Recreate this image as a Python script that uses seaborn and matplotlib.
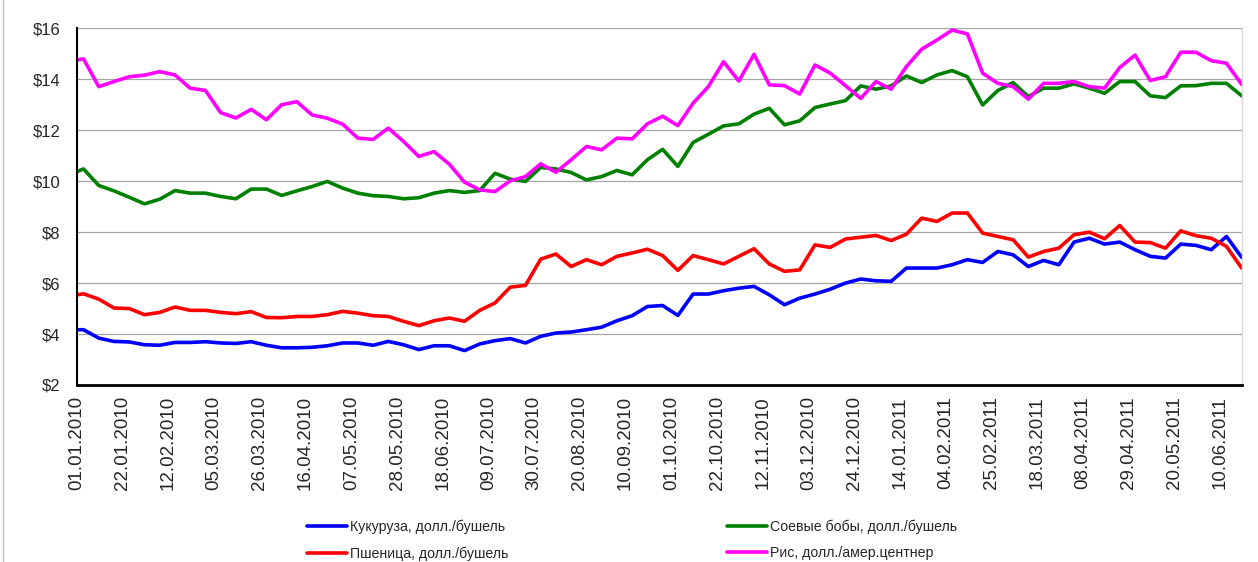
import pandas as pd
import matplotlib
matplotlib.use("Agg")
import matplotlib.pyplot as plt
import seaborn as sns
from matplotlib.lines import Line2D

# observation dates: 01.01.2010, then weekly (Mondays) up to 20.06.2011
dates = pd.to_datetime(["2010-01-01"]).append(pd.date_range("2010-01-04", "2011-06-20", freq="7D"))

# x axis labels every three weeks
tick_dates = pd.date_range("2010-01-01", "2011-06-10", freq="21D")
tick_labels = [d.strftime("%d.%m.%Y") for d in tick_dates]

y_ticks = [2, 4, 6, 8, 10, 12, 14, 16]

corn = [4.17, 4.17, 3.84, 3.71, 3.69, 3.58, 3.56, 3.67, 3.67, 3.70, 3.65, 3.63, 3.70, 3.56, 3.46, 3.46, 3.48, 3.54, 3.65, 3.65, 3.56,
        3.71, 3.58, 3.39, 3.54, 3.54, 3.35, 3.61, 3.74, 3.82, 3.65, 3.91, 4.04, 4.08, 4.17, 4.27, 4.52, 4.72, 5.08, 5.12,
        4.73, 5.57, 5.57, 5.70, 5.80, 5.87, 5.54, 5.15, 5.41, 5.57, 5.76, 6.00, 6.16, 6.09, 6.07, 6.59, 6.59, 6.59, 6.72, 6.92,
        6.81, 7.24, 7.11, 6.65, 6.89, 6.72, 7.61, 7.76, 7.53, 7.61, 7.31, 7.05, 6.98, 7.53, 7.48, 7.31, 7.83, 7.01]

wheat = [5.54, 5.58, 5.37, 5.02, 5.00, 4.76, 4.85, 5.06, 4.93, 4.93, 4.85, 4.80, 4.88, 4.65, 4.64, 4.69, 4.69, 4.76, 4.89, 4.82, 4.72,
         4.69, 4.50, 4.33, 4.52, 4.63, 4.50, 4.93, 5.22, 5.84, 5.91, 6.94, 7.14, 6.65, 6.92, 6.72, 7.05, 7.18, 7.33, 7.08,
         6.50, 7.08, 6.92, 6.75, 7.05, 7.35, 6.75, 6.46, 6.52, 7.50, 7.40, 7.73, 7.80, 7.87, 7.67, 7.92, 8.55, 8.42, 8.75, 8.75,
         7.96, 7.83, 7.70, 7.02, 7.24, 7.37, 7.90, 8.00, 7.74, 8.26, 7.61, 7.59, 7.37, 8.05, 7.86, 7.76, 7.44, 6.59]

soy = [10.38, 10.48, 9.83, 9.62, 9.37, 9.11, 9.29, 9.63, 9.53, 9.53, 9.40, 9.31, 9.69, 9.69, 9.44, 9.62, 9.79, 9.99, 9.73, 9.53, 9.43,
       9.40, 9.31, 9.35, 9.53, 9.63, 9.56, 9.63, 10.31, 10.08, 9.99, 10.54, 10.48, 10.34, 10.05, 10.18, 10.42, 10.25, 10.84, 11.25,
       10.58, 11.52, 11.84, 12.17, 12.25, 12.63, 12.86, 12.21, 12.37, 12.89, 13.03, 13.16, 13.74, 13.61, 13.74, 14.13, 13.87, 14.17, 14.34, 14.10,
       12.99, 13.56, 13.87, 13.32, 13.65, 13.65, 13.82, 13.65, 13.45, 13.91, 13.91, 13.35, 13.28, 13.74, 13.75, 13.84, 13.84, 13.35]

rice = [14.76, 14.80, 13.71, 13.91, 14.10, 14.16, 14.30, 14.17, 13.65, 13.56, 12.69, 12.48, 12.82, 12.41, 13.00, 13.12, 12.60, 12.47, 12.24, 11.69, 11.64,
        12.08, 11.56, 10.97, 11.16, 10.67, 9.96, 9.66, 9.59, 10.01, 10.18, 10.68, 10.35, 10.84, 11.36, 11.23, 11.69, 11.66, 12.25, 12.55,
        12.18, 13.06, 13.71, 14.69, 13.93, 14.98, 13.78, 13.75, 13.42, 14.56, 14.24, 13.75, 13.25, 13.91, 13.61, 14.50, 15.18, 15.54, 15.93, 15.78,
        14.24, 13.84, 13.71, 13.22, 13.84, 13.84, 13.91, 13.71, 13.65, 14.46, 14.95, 13.95, 14.10, 15.06, 15.06, 14.73, 14.63, 13.80]

names = ["Кукуруза, долл./бушель", "Пшеница, долл./бушель", "Соевые бобы, долл./бушель", "Рис, долл./амер.центнер"]
colors = ["#0000ff", "#ff0000", "#008000", "#ff00ff"]

df = pd.DataFrame({"date": dates, names[0]: corn, names[1]: wheat, names[2]: soy, names[3]: rice})
long_df = df.melt(id_vars="date", var_name="series", value_name="price")

sns.set_style("white")
plt.rcParams["font.family"] = ["Liberation Sans", "DejaVu Sans"]

fig = plt.figure(figsize=(12.58, 5.62), dpi=100)
ax = fig.add_axes([77 / 1258, 1 - 385 / 562, (1241.7 - 77) / 1258, (385 - 28.3) / 562])

sns.lineplot(data=long_df, x="date", y="price", hue="series", hue_order=names,
             palette=colors, linewidth=2.6, legend=False, ax=ax)

ax.set_xlim(dates[0], dates[-1])
ax.set_ylim(2, 16)
ax.set_yticks(y_ticks)
ax.set_yticklabels([f"${v}" for v in y_ticks], fontsize=12)
ax.set_xticks(tick_dates)
ax.set_xticklabels(tick_labels, rotation=90, fontsize=13.5)
ax.set_xlabel("")
ax.set_ylabel("")

ax.grid(axis="y", color="#a6a6a6", linewidth=0.9)
ax.grid(axis="x", visible=False)
ax.set_axisbelow(True)

ax.spines["left"].set_color("black")
ax.spines["left"].set_linewidth(1.5)
ax.spines["bottom"].set_color("black")
ax.spines["bottom"].set_linewidth(2)
ax.spines["top"].set_visible(False)
ax.spines["right"].set_color("#d9d9d9")
ax.spines["right"].set_linewidth(1)

ax.tick_params(axis="x", direction="in", length=4, width=1.2, color="black", pad=8)
ax.tick_params(axis="y", length=0, pad=12)

# legend in two columns placed under the axis labels
handles = [Line2D([], [], color=c, linewidth=2.6) for c in colors]
leg_kw = dict(frameon=False, fontsize=10.2, handlelength=2.8, handletextpad=0.25,
              borderpad=0, labelspacing=0.9, loc="upper left")
fig.legend(handles[:2], names[:2], bbox_to_anchor=(300 / 1258, 0.089), **leg_kw)
fig.legend(handles[2:], names[2:], bbox_to_anchor=(720 / 1258, 0.089), **leg_kw)

# thin frame line on the left edge
fig.add_artist(Line2D([3 / 1258, 3 / 1258], [0, 1], color="#bfbfbf", linewidth=1))

fig.savefig("out.png", dpi=100)
